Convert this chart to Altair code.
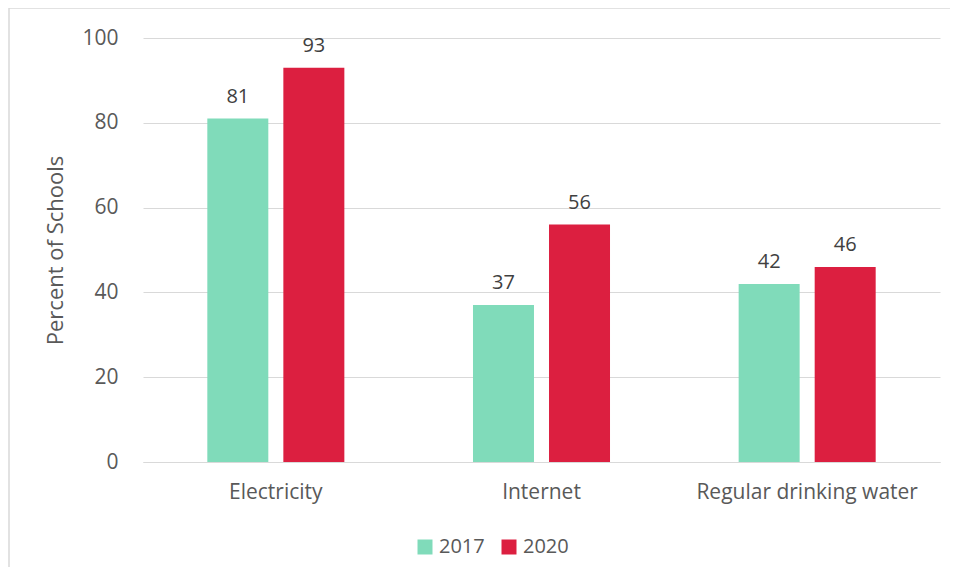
import altair as alt
import pandas as pd

categories = ["Electricity", "Internet", "Regular drinking water"]
years = ["2017", "2020"]
values_2017 = [81, 37, 42]
values_2020 = [93, 56, 46]

rows = []
for c, v in zip(categories, values_2017):
    rows.append({"category": c, "year": "2017", "value": v})
for c, v in zip(categories, values_2020):
    rows.append({"category": c, "year": "2020", "value": v})
df = pd.DataFrame(rows)

FONT = "Open Sans"
TXT = "#595959"

x = alt.X("category:N", sort=categories, title=None,
          scale=alt.Scale(paddingInner=0.484, paddingOuter=0.242),
          axis=alt.Axis(labelAngle=0, ticks=False, domain=True, domainColor="#d9d9d9",
                        labelPadding=19, labelFontSize=21, labelColor=TXT, labelFont=FONT,
                        labelLimit=500))
xo = alt.XOffset("year:N", sort=years, scale=alt.Scale(paddingInner=0.197, paddingOuter=0))
color = alt.Color("year:N", sort=years,
                  scale=alt.Scale(domain=years, range=["#80DBBA", "#DC1F40"]),
                  legend=alt.Legend(title=None, orient="none", direction="horizontal",
                                    legendX=272, legendY=499, symbolType="square",
                                    symbolSize=225, symbolStrokeWidth=0, labelFontSize=20,
                                    labelColor=TXT, labelFont=FONT, columnPadding=14,
                                    labelOffset=4, padding=0))

bars = alt.Chart(df).mark_bar(size=61).encode(
    x=x, xOffset=xo,
    y=alt.Y("value:Q", title="Percent of Schools",
            scale=alt.Scale(domain=[0, 100], nice=False),
            axis=alt.Axis(values=[0, 20, 40, 60, 80, 100], ticks=False, domain=False,
                          gridColor="#d9d9d9", gridWidth=1.2, labelPadding=25,
                          labelFontSize=21, labelColor=TXT, labelFont=FONT,
                          titleFontSize=22, titleColor=TXT, titleFont=FONT,
                          titleFontWeight="normal", titlePadding=14)),
    color=color,
)

labels = alt.Chart(df).mark_text(baseline="alphabetic", dy=-16, fontSize=20,
                                 color="#404040", font=FONT).encode(
    x=alt.X("category:N", sort=categories),
    xOffset=alt.XOffset("year:N", sort=years),
    y="value:Q",
    text="value:Q",
)

border = alt.Chart(pd.DataFrame({"a": [0]})).mark_rect(
    fill=None, stroke="#d9d9d9", strokeWidth=1.5, clip=False).encode(
    x=alt.value(-134), x2=alt.value(1000), y=alt.value(-30), y2=alt.value(700))

chart = alt.layer(border, bars, labels).properties(
    width=797, height=424,
    background="white",
    autosize=alt.AutoSizeParams(type="none"),
    padding={"left": 135, "top": 30, "right": 10, "bottom": 105},
).configure_view(stroke=None)

chart.save("out.html", embed_options={"renderer": "svg", "actions": False})
